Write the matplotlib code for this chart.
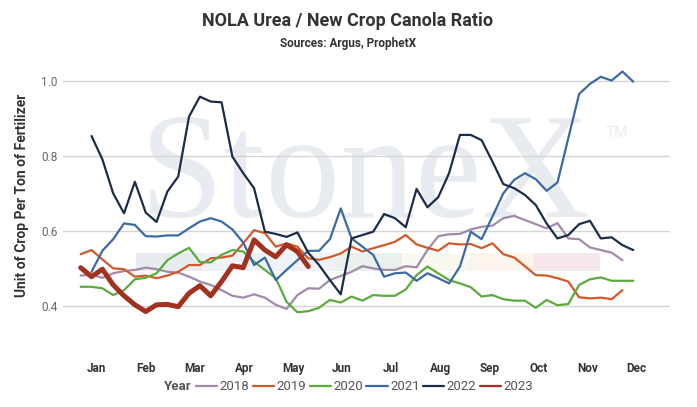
import matplotlib
matplotlib.use("Agg")
import matplotlib.pyplot as plt
from matplotlib import font_manager
import numpy as np

# ---------------- data ----------------
title = "NOLA Urea / New Crop Canola Ratio"
subtitle = "Sources: Argus, ProphetX"
y_label = "Unit of Crop Per Ton of Fertilizer"
months = ["Jan", "Feb", "Mar", "Apr", "May", "Jun", "Jul", "Aug", "Sep", "Oct", "Nov", "Dec"]
month_week_pos = [2.47 + 4.53 * i for i in range(12)]
y_ticks = [0.4, 0.6, 0.8, 1.0]
y_tick_labels = ["0.4", "0.6", "0.8", "1.0"]

y2018 = [0.482, 0.484, 0.476, 0.488, 0.494, 0.497, 0.503, 0.499, 0.492, 0.490,
         0.479, 0.466, 0.457, 0.443, 0.428, 0.423, 0.432, 0.423, 0.404, 0.393,
         0.430, 0.448, 0.447, 0.470, 0.481, 0.492, 0.507, 0.501, 0.497, 0.497,
         0.507, 0.504, 0.550, 0.587, 0.592, 0.593, 0.605, 0.612, 0.615, 0.635,
         0.641, 0.630, 0.619, 0.608, 0.622, 0.581, 0.579, 0.557, 0.550, 0.543,
         0.523]
y2019 = [0.539, 0.550, 0.525, 0.501, 0.499, 0.479, 0.482, 0.475, 0.482, 0.492,
         0.510, 0.510, 0.528, 0.530, 0.535, 0.568, 0.603, 0.595, 0.559, 0.568,
         0.559, 0.528, 0.524, 0.531, 0.541, 0.559, 0.546, 0.555, 0.563, 0.572,
         0.590, 0.565, 0.556, 0.548, 0.568, 0.565, 0.566, 0.555, 0.568, 0.539,
         0.530, 0.507, 0.483, 0.482, 0.475, 0.466, 0.424, 0.421, 0.423, 0.419,
         0.443]
y2020 = [0.452, 0.452, 0.448, 0.430, 0.443, 0.472, 0.476, 0.488, 0.523, 0.541,
         0.556, 0.518, 0.517, 0.537, 0.550, 0.546, 0.519, 0.497, 0.475, 0.412,
         0.384, 0.387, 0.396, 0.417, 0.410, 0.426, 0.415, 0.430, 0.428, 0.428,
         0.445, 0.483, 0.506, 0.488, 0.470, 0.461, 0.451, 0.426, 0.430, 0.419,
         0.415, 0.415, 0.396, 0.417, 0.403, 0.406, 0.457, 0.472, 0.477, 0.468,
         0.468, 0.468]
y2021 = [0.492, 0.548, 0.579, 0.621, 0.617, 0.587, 0.586, 0.589, 0.589, 0.608,
         0.626, 0.635, 0.626, 0.605, 0.570, 0.510, 0.530, 0.470, 0.497, 0.523,
         0.548, 0.548, 0.579, 0.661, 0.581, 0.559, 0.537, 0.479, 0.488, 0.490,
         0.468, 0.488, 0.475, 0.461, 0.506, 0.599, 0.579, 0.639, 0.701, 0.737,
         0.755, 0.739, 0.708, 0.730, 0.848, 0.966, 0.993, 1.012, 1.002, 1.026,
         0.999]
y2022 = [0.854, 0.792, 0.701, 0.648, 0.732, 0.650, 0.625, 0.706, 0.746, 0.906,
         0.959, 0.946, 0.944, 0.799, 0.755, 0.715, 0.599, 0.593, 0.585, 0.597,
         0.543, 0.510, 0.470, 0.432, 0.581, 0.590, 0.599, 0.646, 0.635, 0.611,
         0.713, 0.664, 0.691, 0.755, 0.857, 0.857, 0.843, 0.786, 0.726, 0.715,
         0.697, 0.670, 0.621, 0.581, 0.590, 0.619, 0.628, 0.581, 0.584, 0.563,
         0.550]
y2023 = [0.503, 0.479, 0.499, 0.457, 0.428, 0.404, 0.386, 0.404, 0.405, 0.399,
         0.435, 0.455, 0.428, 0.466, 0.508, 0.503, 0.577, 0.550, 0.532, 0.564,
         0.546, 0.506]

# first week number of each series
start_week = {"2018": 1, "2019": 1, "2020": 1, "2021": 2, "2022": 2, "2023": 1}
series = {"2018": y2018, "2019": y2019, "2020": y2020,
          "2021": y2021, "2022": y2022, "2023": y2023}
colors = {"2018": "#a38aab", "2019": "#d4592a", "2020": "#5cab3e",
          "2021": "#3a6ba5", "2022": "#1b2d48", "2023": "#a3311f"}
widths = {"2018": 1.6, "2019": 1.6, "2020": 1.6, "2021": 1.6, "2022": 1.6, "2023": 3.6}

# ---------------- fonts ----------------
avail = {f.name for f in font_manager.fontManager.ttflist}
def pick(cands):
    for c in cands:
        if c in avail:
            return c
    return "DejaVu Sans"
sans = pick(["Liberation Sans Narrow", "Roboto", "Liberation Sans", "DejaVu Sans"])
serif = pick(["Liberation Serif", "DejaVu Serif"])
plt.rcParams["font.family"] = [sans, "DejaVu Sans"]

W, H = 697, 407
fig = plt.figure(figsize=(W / 100, H / 100), dpi=100)

# pixel layout
px_left, px_right, py_top, py_bot = 63, 670, 70, 330
ax = fig.add_axes([px_left / W, 1 - py_bot / H, (px_right - px_left) / W, (py_bot - py_top) / H])
ax.set_facecolor("white")

def val_at(py):
    return 0.4 + (306.3 - py) / 375.0
def week_at(px):
    return 1 + (px - 80.7) / 10.835

ax.set_ylim(val_at(py_bot), val_at(py_top))
ax.set_xlim(week_at(px_left), week_at(px_right))

# watermark (background decoration)
ax.text(140 / W, 1 - 217 / H, "StoneX", transform=fig.transFigure, family=serif,
        fontsize=108, color="#e8ebf0", va="baseline", ha="left", zorder=0.1)
ax.text(606 / W, 1 - 137 / H, "TM", transform=fig.transFigure, family=sans,
        fontsize=11, color="#e8ebf0", va="baseline", ha="left", zorder=0.1)
band_edges = [136, 202, 268, 335, 402, 468, 534, 600]
band_cols = ["#e8ebf0", "#eff3f8", "#eff3f8", "#eaf1ed", "#f9f9ef", "#fcf5eb", "#f7e9eb"]
for i, c in enumerate(band_cols):
    r = plt.Rectangle((band_edges[i] / W, 1 - 270.5 / H),
                      (band_edges[i + 1] - band_edges[i]) / W, 18 / H,
                      transform=fig.transFigure, facecolor=c,
                      edgecolor="none", zorder=0.2, clip_on=False)
    ax.add_artist(r)

for name, vals in series.items():
    x = np.arange(start_week[name], start_week[name] + len(vals))
    ax.plot(x, vals, color=colors[name], lw=widths[name], label=name,
            solid_joinstyle="round", solid_capstyle="round",
            zorder=3 if name != "2023" else 4)

ax.set_yticks(y_ticks)
ax.set_yticklabels(y_tick_labels)
ax.grid(axis="y", color="#d5d5d5", lw=1.0, zorder=0.5)
ax.set_axisbelow(True)
ax.set_xticks(month_week_pos)
ax.set_xticklabels(months, fontweight="bold", color="#333333", fontsize=8.5)
ax.tick_params(axis="x", length=0, pad=23)
ax.tick_params(axis="y", length=0, pad=4, labelcolor="#666666", labelsize=8.5)
for s in ax.spines.values():
    s.set_visible(False)

fig.text(22 / W, 1 - 195 / H, y_label, rotation=90, ha="center", va="center",
         fontsize=10, fontweight="bold", color="#333333")
fig.text(348 / W, 1 - 21 / H, title, ha="center", va="center",
         fontsize=13, fontweight="bold", color="#333333")
fig.text(348 / W, 1 - 43 / H, subtitle, ha="center", va="center",
         fontsize=8.5, fontweight="bold", color="#333333")

fig.text(164 / W, 1 - 387 / H, "Year", ha="left", va="center",
         fontsize=9.5, fontweight="bold", color="#555555")
handles, labels = ax.get_legend_handles_labels()
leg = fig.legend(handles, labels, loc="center left", bbox_to_anchor=(196 / W, 1 - 387 / H),
                 ncol=6, frameon=False, fontsize=9.5, handlelength=1.6,
                 handletextpad=0.2, columnspacing=0.25, borderaxespad=0, borderpad=0)
for line in leg.get_lines():
    line.set_linewidth(1.6)
for t in leg.get_texts():
    t.set_color("#555555")

fig.savefig("out.png", dpi=100)
